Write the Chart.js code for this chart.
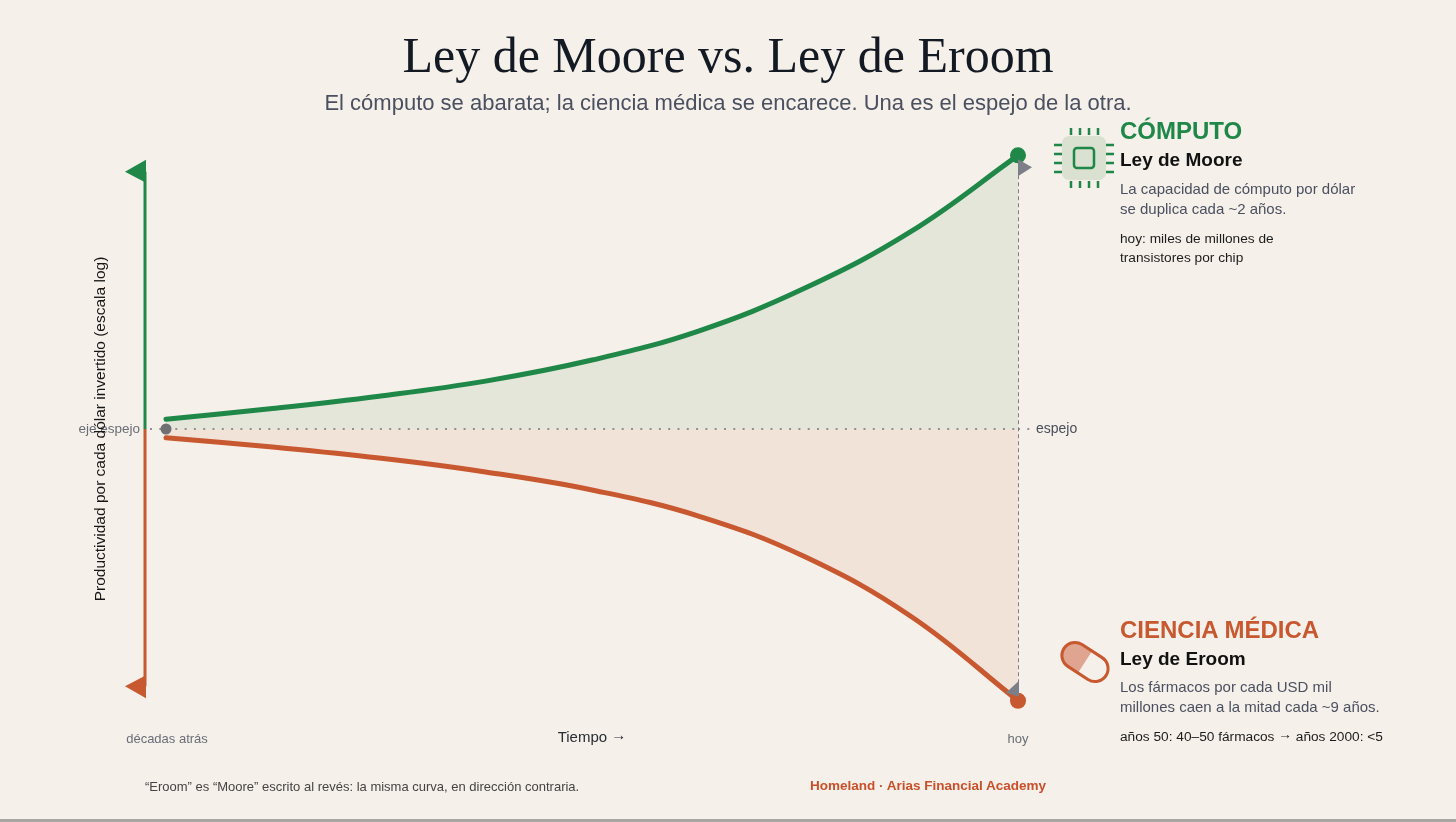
<!DOCTYPE html>
<html lang="es">
<head>
<meta charset="UTF-8">
<title>Ley de Moore vs. Ley de Eroom</title>
<script src="https://cdn.jsdelivr.net/npm/chart.js"></script>
<style>
  html, body { margin: 0; padding: 0; }
  body {
    width: 1456px; height: 822px; position: relative; overflow: hidden;
    background: #f5f0e9;
    font-family: "Liberation Sans", "DejaVu Sans", Arial, Helvetica, sans-serif;
  }
  #chart { position: absolute; left: 0; top: 0; }
  #icons { position: absolute; left: 0; top: 0; }
  .t { position: absolute; white-space: nowrap; line-height: 1; margin: 0; }
  h1.t {
    top: 25px; left: 0; width: 100%; text-align: center; line-height: 60px;
    font-family: "Liberation Serif", Georgia, serif; font-weight: normal;
    font-size: 50px; color: #141a24;
  }
  .sub { top: 92px; left: 0; width: 100%; text-align: center; font-size: 22px; color: #4a5060; }
  .head { font-size: 24px; font-weight: bold; left: 1120px; }
  .law { font-size: 19px; font-weight: bold; left: 1120px; color: #111; }
  .desc { font-size: 15px; line-height: 20px; left: 1120px; color: #4b5060; }
  .note { font-size: 13.7px; line-height: 19px; left: 1120px; color: #1c1c1c; }
  .arrow { position: relative; top: -2px; }
  .foot { font-size: 13px; color: #444; top: 780px; left: 145px; }
  .brand { font-size: 13.5px; font-weight: bold; color: #c8502a; top: 779px; right: 410px; }
  .bar { position: absolute; left: 0; bottom: 0; width: 100%; height: 3px; background: #a8a6a2; }
</style>
</head>
<body>
  <canvas id="chart" width="1456" height="822"></canvas>

  <h1 class="t">Ley de Moore vs. Ley de Eroom</h1>
  <div class="t sub">El cómputo se abarata; la ciencia médica se encarece. Una es el espejo de la otra.</div>

  <div class="t head" style="top:119px; color:#1f8748;">CÓMPUTO</div>
  <div class="t law" style="top:150px;">Ley de Moore</div>
  <div class="t desc" style="top:179px;">La capacidad de cómputo por dólar<br>se duplica cada ~2 años.</div>
  <div class="t note" style="top:229px;">hoy: miles de millones de<br>transistores por chip</div>

  <div class="t head" style="top:618px; color:#c8582f;">CIENCIA MÉDICA</div>
  <div class="t law" style="top:649px;">Ley de Eroom</div>
  <div class="t desc" style="top:677px;">Los fármacos por cada USD mil<br>millones caen a la mitad cada ~9 años.</div>
  <div class="t note" style="top:730px; line-height:1;">años 50: 40–50 fármacos <span class="arrow">→</span> años 2000: &lt;5</div>

  <div class="t foot">“Eroom” es “Moore” escrito al revés: la misma curva, en dirección contraria.</div>
  <div class="t brand">Homeland · Arias Financial Academy</div>
  <div class="bar"></div>

  <svg id="icons" width="1456" height="822">
    <!-- chip -->
    <rect x="1062" y="136" width="44" height="44" rx="7" fill="#dae1d0"/>
    <rect x="1074" y="148" width="20" height="20" rx="3" fill="none" stroke="#1f8748" stroke-width="2.5"/>
    <g stroke="#1f8748" stroke-width="2.5">
      <line x1="1071" y1="128" x2="1071" y2="135"/><line x1="1080" y1="128" x2="1080" y2="135"/>
      <line x1="1089" y1="128" x2="1089" y2="135"/><line x1="1098" y1="128" x2="1098" y2="135"/>
      <line x1="1071" y1="181" x2="1071" y2="188"/><line x1="1080" y1="181" x2="1080" y2="188"/>
      <line x1="1089" y1="181" x2="1089" y2="188"/><line x1="1098" y1="181" x2="1098" y2="188"/>
      <line x1="1054" y1="145" x2="1062" y2="145"/><line x1="1054" y1="154" x2="1062" y2="154"/>
      <line x1="1054" y1="163" x2="1062" y2="163"/><line x1="1054" y1="172" x2="1062" y2="172"/>
      <line x1="1106" y1="145" x2="1114" y2="145"/><line x1="1106" y1="154" x2="1114" y2="154"/>
      <line x1="1106" y1="163" x2="1114" y2="163"/><line x1="1106" y1="172" x2="1114" y2="172"/>
    </g>
    <!-- pill -->
    <defs>
      <clipPath id="pillClip">
        <rect x="-25" y="-13" width="50" height="26" rx="13"/>
      </clipPath>
    </defs>
    <g transform="translate(1085 662) rotate(33)">
      <rect x="-25" y="-13" width="25" height="26" fill="#dfa590" clip-path="url(#pillClip)"/>
      <rect x="-25" y="-13" width="50" height="26" rx="13" fill="none" stroke="#c8582f" stroke-width="3"/>
    </g>
  </svg>

<script>
// tiempo: de hace décadas a hoy
const timeLabels = ['décadas atrás', '', '', '', '', '', '', '', 'hoy'];
// productividad relativa al eje espejo (escala log, normalizada a 1 hoy)
const mooreComputo = [0.036, 0.075, 0.120, 0.175, 0.252, 0.358, 0.515, 0.723, 1.0];
const eroomFarmacos = [-0.032, -0.066, -0.106, -0.157, -0.223, -0.318, -0.467, -0.686, -0.993];
const mirrorAxis = [0, 0, 0, 0, 0, 0, 0, 0, 0];

const GREEN = '#1f8748';
const RED = '#c8582f';
const GRAY = '#7c7e88';
const SANS = '"Liberation Sans", "DejaVu Sans", Arial, sans-serif';

const lastIdx = timeLabels.length - 1;
const endRadius = timeLabels.map((_, i) => i === lastIdx ? 8 : 0);
const startRadius = timeLabels.map((_, i) => i === 0 ? 5.5 : 0);

function tri(ctx, pts, color) {
    ctx.beginPath();
    ctx.moveTo(pts[0][0], pts[0][1]);
    ctx.lineTo(pts[1][0], pts[1][1]);
    ctx.lineTo(pts[2][0], pts[2][1]);
    ctx.closePath();
    ctx.fillStyle = color;
    ctx.fill();
}

const decorations = {
    id: 'decorations',
    beforeDatasetsDraw(chart) {
        const { ctx, scales: { x, y } } = chart;
        const x0 = x.getPixelForValue(0);
        const x1 = x.getPixelForValue(lastIdx);
        const y0 = y.getPixelForValue(0);
        const yTop = y.getPixelForValue(mooreComputo[lastIdx]);
        const yBot = y.getPixelForValue(eroomFarmacos[lastIdx]);
        ctx.save();

        // dotted mirror extensions beyond the data range
        ctx.strokeStyle = '#8f9097';
        ctx.lineWidth = 2;
        ctx.setLineDash([2, 7.3]);
        ctx.beginPath();
        ctx.moveTo(x0 - 16, y0); ctx.lineTo(x0, y0);
        ctx.moveTo(x1, y0); ctx.lineTo(x1 + 12, y0);
        ctx.stroke();

        // dashed line at "hoy"
        ctx.strokeStyle = GRAY;
        ctx.lineWidth = 2;
        ctx.setLineDash([4, 3]);
        ctx.beginPath();
        ctx.moveTo(x1, yTop + 6);
        ctx.lineTo(x1, yBot - 6);
        ctx.stroke();
        ctx.setLineDash([]);

        // left axis, split green / red
        const ax = x0 - 21;
        const aTop = y.getPixelForValue(0.94);
        const aBot = y.getPixelForValue(-0.94);
        ctx.lineWidth = 3;
        ctx.strokeStyle = GREEN;
        ctx.beginPath(); ctx.moveTo(ax, aTop); ctx.lineTo(ax, y0); ctx.stroke();
        ctx.strokeStyle = RED;
        ctx.beginPath(); ctx.moveTo(ax, y0); ctx.lineTo(ax, aBot); ctx.stroke();
        tri(ctx, [[ax + 1, aTop - 12], [ax + 1, aTop + 11], [ax - 20, aTop]], GREEN);
        tri(ctx, [[ax + 1, aBot - 11], [ax + 1, aBot + 12], [ax - 20, aBot]], RED);

        // texts
        ctx.textBaseline = 'middle';
        ctx.font = '13.5px ' + SANS;
        ctx.fillStyle = '#6a6d77';
        ctx.textAlign = 'right';
        ctx.fillText('eje espejo', ax - 5, y0);
        ctx.textAlign = 'left';
        ctx.font = '14px ' + SANS;
        ctx.fillStyle = '#4a4e5a';
        ctx.fillText('espejo', x1 + 18, y0);

        ctx.textAlign = 'center';
        ctx.font = '13px ' + SANS;
        ctx.fillStyle = '#6a6d77';
        ctx.fillText(timeLabels[0], x0 + 1, 739);
        ctx.fillText(timeLabels[lastIdx], x1, 739);

        // "Tiempo →" centred, arrow lifted to the x-height middle
        ctx.font = '15px ' + SANS;
        ctx.fillStyle = '#2a2d35';
        const word = 'Tiempo ';
        const wW = ctx.measureText(word).width;
        const aW = ctx.measureText('→').width;
        const startX = (x0 + x1) / 2 - (wW + aW) / 2;
        ctx.textAlign = 'left';
        ctx.fillText(word, startX, 738);
        ctx.fillText('→', startX + wW, 736);
        ctx.textAlign = 'center';

        ctx.translate(101, y0);
        ctx.rotate(-Math.PI / 2);
        ctx.font = '15.5px ' + SANS;
        ctx.fillStyle = '#161616';
        ctx.fillText('Productividad por cada dólar invertido (escala log)', 0, 0);
        ctx.restore();
    },
    afterDatasetsDraw(chart) {
        const { ctx, scales: { x, y } } = chart;
        const x1 = x.getPixelForValue(lastIdx);
        const yTop = y.getPixelForValue(mooreComputo[lastIdx]);
        const yBot = y.getPixelForValue(eroomFarmacos[lastIdx]);
        ctx.save();
        tri(ctx, [[x1, yTop + 4], [x1, yTop + 21], [x1 + 14, yTop + 12]], GRAY);
        tri(ctx, [[x1 + 1, yBot - 20], [x1 + 1, yBot - 4], [x1 - 12, yBot - 8]], GRAY);
        ctx.restore();
    }
};

new Chart(document.getElementById('chart').getContext('2d'), {
    type: 'line',
    data: {
        labels: timeLabels,
        datasets: [
            {
                label: 'Ley de Moore',
                data: mooreComputo,
                order: 1,
                borderColor: GREEN,
                backgroundColor: '#e3e6d8',
                borderWidth: 5,
                borderCapStyle: 'round',
                fill: { value: 0 },
                tension: 0.4,
                pointRadius: endRadius,
                pointBackgroundColor: GREEN,
                pointBorderWidth: 0,
                clip: false
            },
            {
                label: 'Ley de Eroom',
                data: eroomFarmacos,
                order: 1,
                borderColor: RED,
                backgroundColor: '#f1e3d8',
                borderWidth: 5,
                borderCapStyle: 'round',
                fill: { value: 0 },
                tension: 0.4,
                pointRadius: endRadius,
                pointBackgroundColor: RED,
                pointBorderWidth: 0,
                clip: false
            },
            {
                label: 'eje espejo',
                data: mirrorAxis,
                order: 0,
                borderColor: '#8f9097',
                borderWidth: 2,
                borderDash: [2, 7.3],
                fill: false,
                pointRadius: startRadius,
                pointBackgroundColor: '#6f6f74',
                pointBorderWidth: 0,
                clip: false
            }
        ]
    },
    options: {
        responsive: false,
        animation: false,
        devicePixelRatio: 1,
        layout: { padding: { left: 166, right: 438, top: 128, bottom: 92 } },
        plugins: {
            legend: { display: false },
            tooltip: { enabled: false }
        },
        scales: {
            x: { display: false },
            y: { display: false, min: -1.1, max: 1.1 }
        }
    },
    plugins: [decorations]
});
</script>
</body>
</html>
